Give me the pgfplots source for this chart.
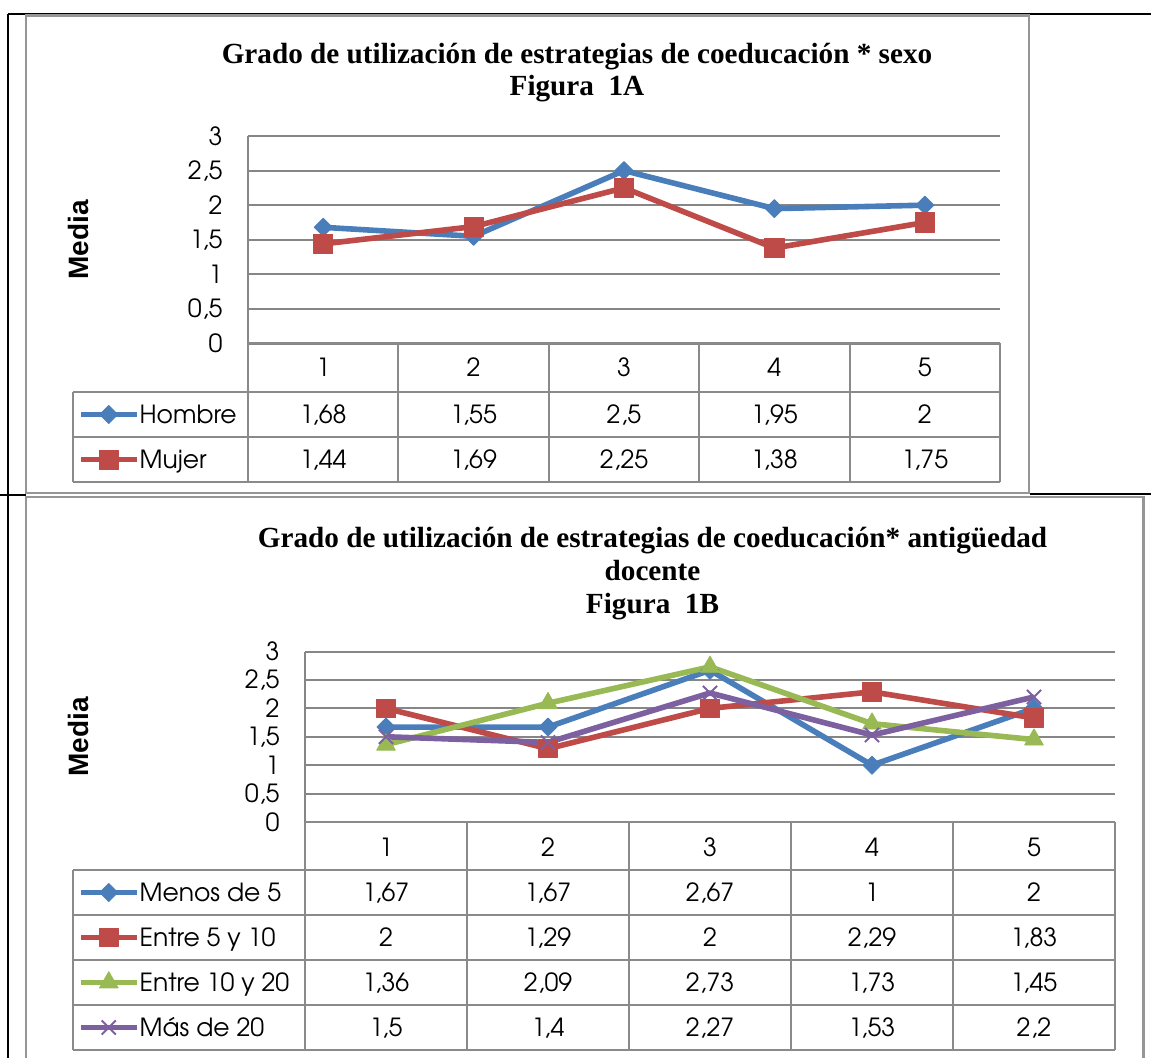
\documentclass[border=0pt]{standalone}
\usepackage{fontspec}
\setmainfont{TeX Gyre Adventor}
\newfontfamily\titlefont{Liberation Serif}
\newfontfamily\labfont{Liberation Sans}
\usepackage{pgfplots}
\pgfplotsset{compat=1.18}
\definecolor{sblue}{HTML}{4A7EBB}
\definecolor{sred}{HTML}{BE4B48}
\definecolor{sgreen}{HTML}{98B954}
\definecolor{spurple}{HTML}{7D60A0}
\definecolor{gridc}{HTML}{868686}
\definecolor{tabc}{HTML}{8A8A8A}
\definecolor{boxc}{HTML}{969696}
\newcommand{\tf}{\fontsize{12.5}{15}\selectfont}
\newcommand{\ttl}{\titlefont\bfseries\fontsize{14.6}{17}\selectfont}

\pgfplotsset{
  coedu/.style={
    scale only axis,
    anchor=south west,
    xmin=0.5, xmax=5.5, ymin=0, ymax=3,
    ytick={0,0.5,1,1.5,2,2.5,3},
    axis x line=none,
    axis y line=left,
    axis line style={gridc, line width=1pt, -},
    ymajorgrids,
    grid style={gridc, line width=1pt},
    major tick length=0pt,
    clip=false,
    /pgf/number format/use comma,
    /pgf/number format/assume math mode=true,
    yticklabel style={font=\tf, anchor=east, inner sep=0pt, xshift=-12.5pt, text height=9pt, text depth=0pt},
    ylabel={Media},
    legend cell align=left,
    legend style={draw=none, fill=none, inner sep=0pt, outer sep=0pt, column sep=0pt, row sep=0pt, font=\tf, anchor=north west,
      nodes={inner sep=0pt, minimum height=22.5pt, text height=11pt, text depth=2pt}},
    legend image code/.code={\draw[mark repeat=2, mark phase=2, #1] plot coordinates {(0pt,0pt) (14pt,0pt) (28pt,0pt)};},
  },
  sline/.style={line width=2.8pt, line join=round},
}

\begin{document}
\begin{tikzpicture}
\path[use as bounding box] (0pt,0pt) rectangle (575.5pt,528.5pt);

\begin{scope}[x=0.5pt, y=-0.5pt, shift={(0pt,528.5pt)}]
  % outer black table lines
  \draw[black, line width=1pt] (8,14) -- (1151,14);
  \draw[black, line width=1pt] (8,14) -- (8,1060);
  \draw[black, line width=1pt] (0,495) -- (26,495);
  \draw[black, line width=1pt] (1030,494) -- (1151,494);
  % chart area boxes
  \draw[boxc, line width=1.25pt] (26,15.5) rectangle (1029,493);
  \draw[boxc, line width=1.25pt] (26,1065) -- (26,497) -- (1143.5,497) -- (1143.5,1065);
  % titles
  \node[anchor=base, font=\ttl] at (577,64) {Grado de utilización de estrategias de coeducación * sexo};
  \node[anchor=base, font=\ttl] at (577,96) {Figura\ \ 1A};
  \node[anchor=base, font=\ttl] at (652.5,547) {Grado de utilización de estrategias de coeducación* antigüedad};
  \node[anchor=base, font=\ttl] at (652.5,580) {docente};
  \node[anchor=base, font=\ttl] at (652.5,613) {Figura\ \ 1B};
\end{scope}

% ---------------- Chart A ----------------
\begin{axis}[coedu, at={(124pt,356.75pt)}, width=376pt, height=103.75pt,
  ylabel style={at={(axis description cs:-0.2255,0.5)}, anchor=center, font=\labfont\bfseries\fontsize{14}{16}\selectfont},
  legend style={at={(axis description cs:-0.22606,-0.23373)}}]
\addplot[sblue, sline, mark=square*, mark size=3.2pt, mark options={rotate=45, solid, line width=0.4pt}]
  coordinates {(1,1.68) (2,1.55) (3,2.5) (4,1.95) (5,2)};
\addlegendentry{Hombre}
\addplot[sred, sline, mark=square*, mark size=4.8pt, mark options={solid, line width=0.4pt}]
  coordinates {(1,1.44) (2,1.69) (3,2.25) (4,1.38) (5,1.75)};
\addlegendentry{Mujer}
\end{axis}

% ---------------- Chart B ----------------
\begin{axis}[coedu, at={(152.5pt,117.5pt)}, width=405pt, height=85.25pt,
  ylabel style={at={(axis description cs:-0.2796,0.5)}, anchor=center, font=\labfont\bfseries\fontsize{14}{16}\selectfont},
  legend style={at={(axis description cs:-0.28025,-0.28152)}}]
\addplot[sblue, sline, mark=square*, mark size=3.2pt, mark options={rotate=45, solid, line width=0.4pt}]
  coordinates {(1,1.67) (2,1.67) (3,2.67) (4,1) (5,2)};
\addlegendentry{Menos de 5}
\addplot[sred, sline, mark=square*, mark size=4.6pt, mark options={solid, line width=0.4pt}]
  coordinates {(1,2) (2,1.29) (3,2) (4,2.29) (5,1.83)};
\addlegendentry{Entre 5 y 10}
\addplot[sgreen, sline, mark=triangle*, mark size=5.4pt, mark options={solid, line width=0.4pt}]
  coordinates {(1,1.36) (2,2.09) (3,2.73) (4,1.73) (5,1.45)};
\addlegendentry{Entre 10 y 20}
\addplot[spurple, sline, mark=x, mark size=5pt, mark options={solid, line width=1pt}]
  coordinates {(1,1.5) (2,1.4) (3,2.27) (4,1.53) (5,2.2)};
\addlegendentry{Más de 20}
\end{axis}

\begin{scope}[x=0.5pt, y=-0.5pt, shift={(0pt,528.5pt)}]
  % table A grid
  \draw[tabc, line width=1pt] (248,343.5) -- (1000,343.5);
  \foreach \yy in {392,437,482} \draw[tabc, line width=1pt] (73,\yy) -- (1000,\yy);
  \draw[tabc, line width=1pt] (73,392) -- (73,482);
  \foreach \xx in {248,398.4,548.8,699.2,849.6,1000} \draw[tabc, line width=1pt] (\xx,343.5) -- (\xx,482);
  \foreach \xx/\t in {323.2/1,473.6/2,624/3,774.4/4,924.8/5} \node[anchor=base, font=\tf] at (\xx,376.5) {\t};
  \foreach \xx/\t in {323.2/{1,68},473.6/{1,55},624/{2,5},774.4/{1,95},924.8/2} \node[anchor=base, font=\tf] at (\xx,423) {\t};
  \foreach \xx/\t in {323.2/{1,44},473.6/{1,69},624/{2,25},774.4/{1,38},924.8/{1,75}} \node[anchor=base, font=\tf] at (\xx,468) {\t};
  % table B grid
  \draw[tabc, line width=1pt] (305,822) -- (1115,822);
  \foreach \yy in {870,915,960,1005,1050} \draw[tabc, line width=1pt] (73,\yy) -- (1115,\yy);
  \draw[tabc, line width=1pt] (73,870) -- (73,1050);
  \foreach \xx in {305,467,629,791,953,1115} \draw[tabc, line width=1pt] (\xx,822) -- (\xx,1050);
  \foreach \xx/\t in {386/1,548/2,710/3,872/4,1034/5} \node[anchor=base, font=\tf] at (\xx,856) {\t};
  \foreach \xx/\t in {386/{1,67},548/{1,67},710/{2,67},872/1,1034/2} \node[anchor=base, font=\tf] at (\xx,901) {\t};
  \foreach \xx/\t in {386/2,548/{1,29},710/2,872/{2,29},1034/{1,83}} \node[anchor=base, font=\tf] at (\xx,946) {\t};
  \foreach \xx/\t in {386/{1,36},548/{2,09},710/{2,73},872/{1,73},1034/{1,45}} \node[anchor=base, font=\tf] at (\xx,991) {\t};
  \foreach \xx/\t in {386/{1,5},548/{1,4},710/{2,27},872/{1,53},1034/{2,2}} \node[anchor=base, font=\tf] at (\xx,1036) {\t};
\end{scope}
\end{tikzpicture}
\end{document}
